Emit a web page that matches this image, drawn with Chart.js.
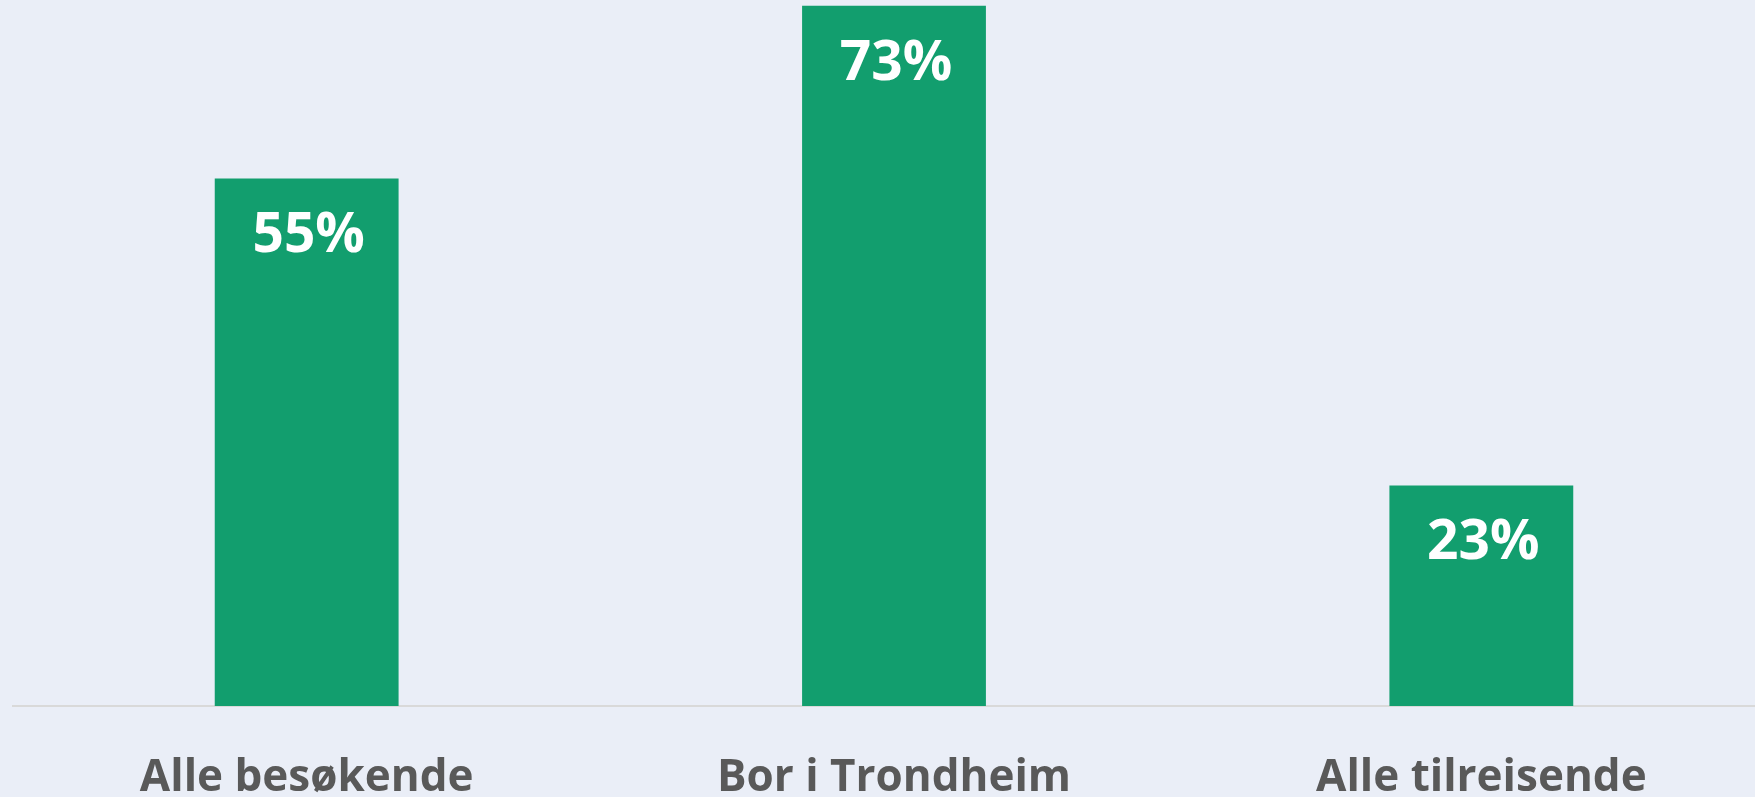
<!DOCTYPE html>
<html>
<head>
<meta charset="utf-8">
<script src="https://cdn.jsdelivr.net/npm/chart.js@4.4.1/dist/chart.umd.min.js"></script>
<style>
    html, body {
        margin: 0;
        padding: 0;
        background: #EAEEF7;
        overflow: hidden;
    }
    .chart-wrapper {
        position: relative;
        width: 1775px;
        height: 797px;
    }
</style>
</head>
<body>
<div class="chart-wrapper">
    <canvas id="barChart"></canvas>
</div>
<script>
// Andel (%) per gruppe
const categories = ['Alle besøkende', 'Bor i Trondheim', 'Alle tilreisende'];
const shareValues = [55, 73, 23];

const BAR_COLOR = '#129E6E';
const LABEL_COLOR = '#595959';
const FONT_FAMILY = '"Open Sans", "Noto Sans", sans-serif';

// Verdietiketter inne i toppen av hver stolpe
const valueLabels = {
    id: 'valueLabels',
    afterDatasetsDraw(chart) {
        const { ctx } = chart;
        const meta = chart.getDatasetMeta(0);
        ctx.save();
        ctx.fillStyle = '#FFFFFF';
        ctx.font = `bold 55px ${FONT_FAMILY}`;
        ctx.textAlign = 'center';
        ctx.textBaseline = 'alphabetic';
        meta.data.forEach((bar, i) => {
            ctx.fillText(shareValues[i] + '%', bar.x + 2, bar.y + 74);
        });
        ctx.restore();
    }
};

const ctx = document.getElementById('barChart').getContext('2d');
new Chart(ctx, {
    type: 'bar',
    data: {
        labels: categories,
        datasets: [{
            data: shareValues,
            backgroundColor: BAR_COLOR,
            borderWidth: 0,
            categoryPercentage: 1,
            barPercentage: 0.313
        }]
    },
    options: {
        responsive: true,
        maintainAspectRatio: false,
        animation: false,
        layout: {
            padding: { left: 13, right: 0, top: 0, bottom: 0 }
        },
        plugins: {
            legend: { display: false },
            tooltip: { enabled: false }
        },
        scales: {
            x: {
                grid: { display: false, drawTicks: false },
                border: { display: true, color: '#D9D9D9', width: 2 },
                ticks: {
                    color: LABEL_COLOR,
                    font: { family: FONT_FAMILY, size: 44, weight: 'bold' },
                    padding: 46,
                    maxRotation: 0
                },
                afterFit(scale) {
                    scale.height = 91;
                }
            },
            y: {
                display: false,
                min: 0,
                max: 73.6
            }
        }
    },
    plugins: [valueLabels]
});
</script>
</body>
</html>
